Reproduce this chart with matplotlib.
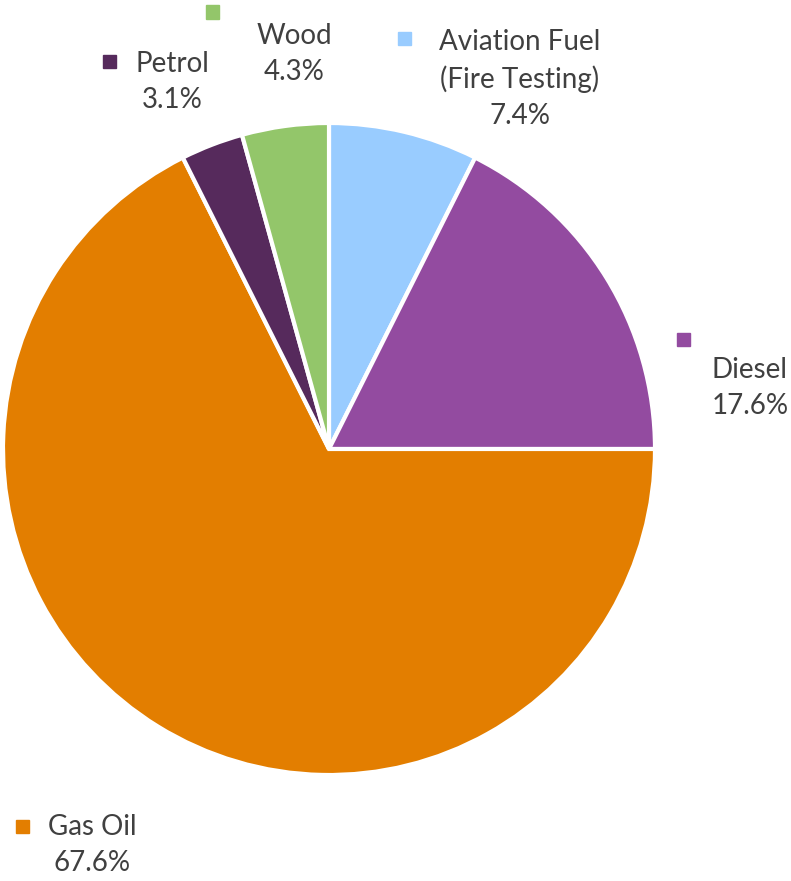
import matplotlib.pyplot as plt

# data
fuels = ["Aviation Fuel\n(Fire Testing)", "Diesel", "Gas Oil", "Petrol", "Wood"]
shares = [7.4, 17.6, 67.6, 3.1, 4.3]
colors = ["#99CCFF", "#934BA0", "#E37E00", "#562A5C", "#93C66A"]

# label layout (pixel positions in the 791x881 figure)
text_pos = [(520, 79), (750, 388), (92, 845), (172, 82), (294, 54)]
square_pos = [(404, 39), (683, 339), (22, 826), (109, 62), (212, 12)]

W, H = 791, 881
fig = plt.figure(figsize=(W / 100, H / 100), dpi=100)
ax = fig.add_axes([0, 0, 1, 1])

cx, cy, r = 329, 449, 326
ax.pie(shares, colors=colors, startangle=90, counterclock=False,
       radius=1, wedgeprops=dict(edgecolor="white", linewidth=3))
ax.set_xlim(-cx / r, (W - cx) / r)
ax.set_ylim(-(H - cy) / r, cy / r)
ax.set_aspect("auto")
ax.axis("off")

for name, val, col, (tx, ty), (sx, sy) in zip(fuels, shares, colors, text_pos, square_pos):
    fig.text(tx / W, 1 - ty / H, f"{name}\n{val:.1f}%", ha="center", va="center",
             fontsize=20, family="Lato", color="#404040", linespacing=1.45)
    fig.add_artist(plt.Rectangle((sx / W - 6.5 / W, 1 - sy / H - 6.5 / H), 13 / W, 13 / H,
                                 color=col, transform=fig.transFigure))

fig.savefig("out.png", dpi=100)
